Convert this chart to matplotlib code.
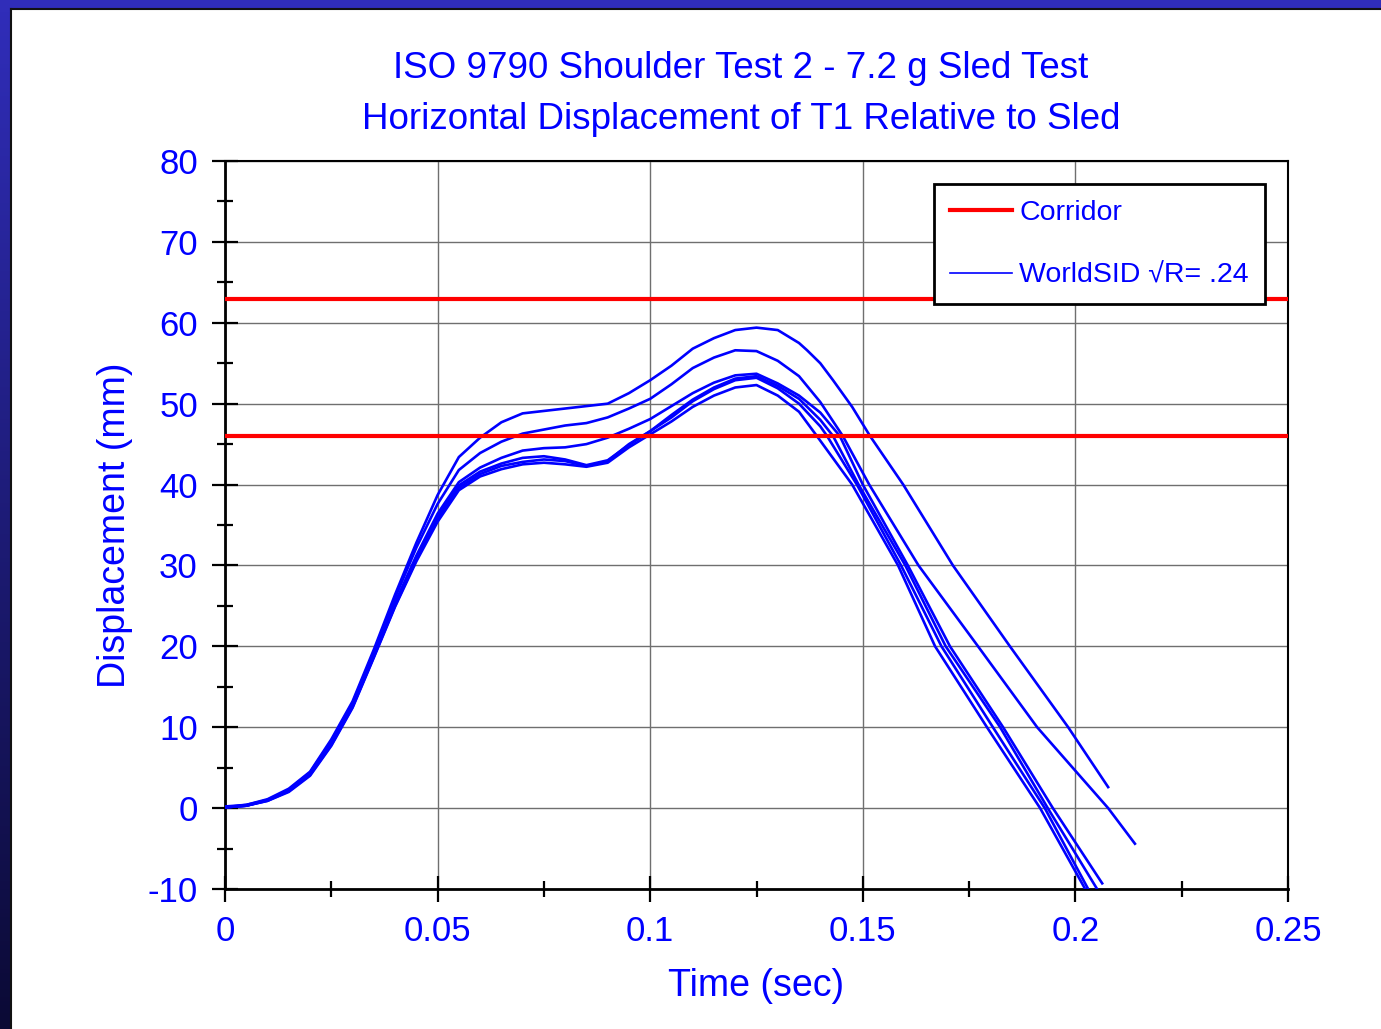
import numpy as np
import matplotlib
matplotlib.use("Agg")
import matplotlib.pyplot as plt
import matplotlib.ticker as ticker
from matplotlib.lines import Line2D
from matplotlib.patches import Rectangle

plt.rcParams['font.family'] = ['Liberation Sans', 'DejaVu Sans']
plt.rcParams['axes.unicode_minus'] = False

BLUE = '#0000ff'
RED = '#ff0000'

# --- data ---
# shared time grid for the rise / plateau part (sec)
t_rise = [0.0, 0.005, 0.01, 0.015, 0.02, 0.025, 0.03, 0.035, 0.04, 0.045,
          0.05, 0.055, 0.06, 0.065, 0.07, 0.075, 0.08, 0.085, 0.09, 0.095,
          0.1, 0.105, 0.11, 0.115, 0.12, 0.125, 0.13, 0.135]

# displacement (mm) of the six WorldSID runs on t_rise
rise_a = [0.2, 0.4, 1.1, 2.4, 4.5, 8.5, 13.2, 19.6, 26.4, 32.8, 38.7, 43.4, 45.8, 47.7,
          48.8, 49.1, 49.4, 49.7, 50.0, 51.3, 52.9, 54.7, 56.8, 58.1, 59.1, 59.4, 59.1, 57.5]
rise_b = [0.1, 0.4, 1.0, 2.3, 4.4, 8.3, 13.0, 19.3, 26.0, 32.2, 37.6, 41.8, 43.9, 45.3,
          46.3, 46.8, 47.3, 47.6, 48.3, 49.4, 50.6, 52.4, 54.4, 55.7, 56.6, 56.5, 55.3, 53.4]
rise_c = [0.1, 0.3, 1.0, 2.2, 4.3, 8.0, 12.7, 19.0, 25.4, 31.2, 36.4, 40.3, 42.1, 43.3,
          44.2, 44.5, 44.6, 45.0, 45.8, 46.9, 48.1, 49.7, 51.3, 52.6, 53.5, 53.7, 52.5, 51.0]
rise_d = [0.1, 0.3, 1.0, 2.1, 4.2, 7.9, 12.6, 18.8, 25.2, 30.9, 36.0, 39.9, 41.6, 42.6,
          43.3, 43.5, 43.1, 42.4, 43.0, 44.9, 46.6, 48.6, 50.5, 52.0, 53.1, 53.4, 52.2, 50.6]
rise_e = [0.1, 0.3, 0.9, 2.1, 4.1, 7.8, 12.5, 18.7, 25.0, 30.7, 35.7, 39.6, 41.3, 42.3,
          42.8, 43.1, 42.9, 42.3, 42.9, 45.0, 46.6, 48.3, 50.3, 51.8, 52.9, 53.2, 51.9, 50.0]
rise_f = [0.1, 0.3, 0.9, 2.0, 4.0, 7.7, 12.4, 18.6, 24.9, 30.5, 35.4, 39.3, 41.0, 41.9,
          42.5, 42.7, 42.5, 42.2, 42.7, 44.6, 46.2, 47.8, 49.6, 51.0, 52.0, 52.3, 51.0, 49.0]

# unloading part, own time points per run
fall_t_a = [0.1369, 0.14, 0.143, 0.1475, 0.1517, 0.1595, 0.1712, 0.1846, 0.1983, 0.2077]
fall_y_a = [56.6, 55.0, 52.9, 49.6, 46.0, 40.0, 30.0, 20.0, 10.0, 2.6]
fall_t_b = [0.14, 0.1453, 0.1515, 0.1631, 0.1771, 0.191, 0.2077, 0.214]
fall_y_b = [50.2, 46.0, 40.0, 30.0, 20.0, 10.0, 0.0, -4.4]
fall_t_c = [0.14, 0.1446, 0.150, 0.1606, 0.1705, 0.183, 0.1947, 0.2063]
fall_y_c = [48.9, 46.0, 40.0, 30.0, 20.0, 10.0, 0.0, -9.3]
fall_t_d = [0.14, 0.143, 0.149, 0.160, 0.1695, 0.1823, 0.1935, 0.2051]
fall_y_d = [48.0, 46.0, 40.0, 30.0, 20.0, 10.0, 0.0, -10.0]
fall_t_e = [0.14, 0.1416, 0.1486, 0.159, 0.1685, 0.1806, 0.1928, 0.203]
fall_y_e = [47.2, 46.0, 40.0, 30.0, 20.0, 10.0, 0.0, -10.0]
fall_t_f = [0.1392, 0.1475, 0.1583, 0.167, 0.1792, 0.1917, 0.2023]
fall_y_f = [46.0, 40.0, 30.0, 20.0, 10.0, 0.0, -10.0]

corridor = [46, 63]

runs = [
    (rise_a, fall_t_a, fall_y_a),
    (rise_b, fall_t_b, fall_y_b),
    (rise_c, fall_t_c, fall_y_c),
    (rise_d, fall_t_d, fall_y_d),
    (rise_e, fall_t_e, fall_y_e),
    (rise_f, fall_t_f, fall_y_f),
]

# --- figure ---
W, H = 1381, 1029
fig = plt.figure(figsize=(W / 100, H / 100), dpi=100)
fig.patch.set_facecolor('white')

# slide frame: blue band on top, blue->navy band on the left
fig.patches.append(Rectangle((0, 1 - 8 / H), 1, 8 / H, transform=fig.transFigure,
                             facecolor='#302db9', edgecolor='none', zorder=0))
ax_frame = fig.add_axes([0, 0, 10 / W, 1 - 8 / H])
grad = np.linspace(0, 1, 256).reshape(-1, 1)
cmap = matplotlib.colors.LinearSegmentedColormap.from_list('frame', ['#302db9', '#0b0a35'])
ax_frame.imshow(grad, aspect='auto', cmap=cmap, extent=[0, 1, 0, 1])
ax_frame.axis('off')
fig.add_artist(Line2D([10.5 / W, 10.5 / W], [0, 1 - 8.5 / H], transform=fig.transFigure,
                      color='#111111', lw=1.5))
fig.add_artist(Line2D([10.5 / W, 1], [1 - 8.5 / H, 1 - 8.5 / H], transform=fig.transFigure,
                      color='#111111', lw=1.5))

ax = fig.add_axes([225 / W, 1 - 889 / H, (1288 - 225) / W, (889 - 161) / H])

for rise, ft, fy in runs:
    ax.plot(list(t_rise) + ft, rise + fy, color=BLUE, lw=1.9, zorder=3,
            solid_joinstyle='round')

for level in corridor:
    ax.axhline(level, color=RED, lw=3.0, zorder=4)

ax.set_xlim(0, 0.25)
ax.set_ylim(-10, 80)

ax.xaxis.set_major_locator(ticker.MultipleLocator(0.05))
ax.xaxis.set_minor_locator(ticker.MultipleLocator(0.025))
ax.yaxis.set_major_locator(ticker.MultipleLocator(10))
ax.yaxis.set_minor_locator(ticker.MultipleLocator(5))
ax.xaxis.set_major_formatter(ticker.FuncFormatter(lambda v, p: f"{v:g}"))
ax.yaxis.set_major_formatter(ticker.FuncFormatter(lambda v, p: f"{v:g}"))

ax.tick_params(which='major', direction='inout', length=19, width=1.6,
               labelsize=25, labelcolor=BLUE, color='black')
ax.tick_params(which='minor', direction='inout', length=11.5, width=1.6, color='black')
ax.tick_params(axis='y', which='major', pad=10)
ax.tick_params(axis='x', which='major', pad=9)

ax.grid(True, which='major', color='#6f6f6f', lw=1.0, zorder=1)
ax.set_axisbelow(True)

for side in ['left', 'bottom']:
    ax.spines[side].set_linewidth(2.0)
for side in ['top', 'right']:
    ax.spines[side].set_linewidth(1.5)

ax.set_xlabel('Time (sec)', fontsize=27, color=BLUE)
ax.set_ylabel('Displacement (mm)', fontsize=27, color=BLUE)
ax.xaxis.set_label_coords(0.5, -0.108)
ax.yaxis.set_label_coords(-0.087, 0.5)

fig.text(741 / W, 1 - 68 / H, 'ISO 9790 Shoulder Test 2 - 7.2 g Sled Test',
         ha='center', va='center', fontsize=26.5, color=BLUE)
fig.text(741 / W, 1 - 120 / H, 'Horizontal Displacement of T1 Relative to Sled',
         ha='center', va='center', fontsize=26.5, color=BLUE)

handles = [Line2D([], [], color=RED, lw=3.0),
           Line2D([], [], color=BLUE, lw=1.2)]
leg = ax.legend(handles, ['Corridor', 'WorldSID \u221aR= .24'],
                loc='upper left', bbox_to_anchor=(0.667, 0.9684), borderaxespad=0,
                fontsize=20.5, labelcolor=BLUE, frameon=True, fancybox=False,
                edgecolor='black', facecolor='white', framealpha=1,
                handlelength=2.2, handletextpad=0.25, labelspacing=1.3,
                borderpad=0.55)
leg.get_frame().set_linewidth(2.0)
leg.set_zorder(6)

fig.savefig('out.png', dpi=100, facecolor='white')
